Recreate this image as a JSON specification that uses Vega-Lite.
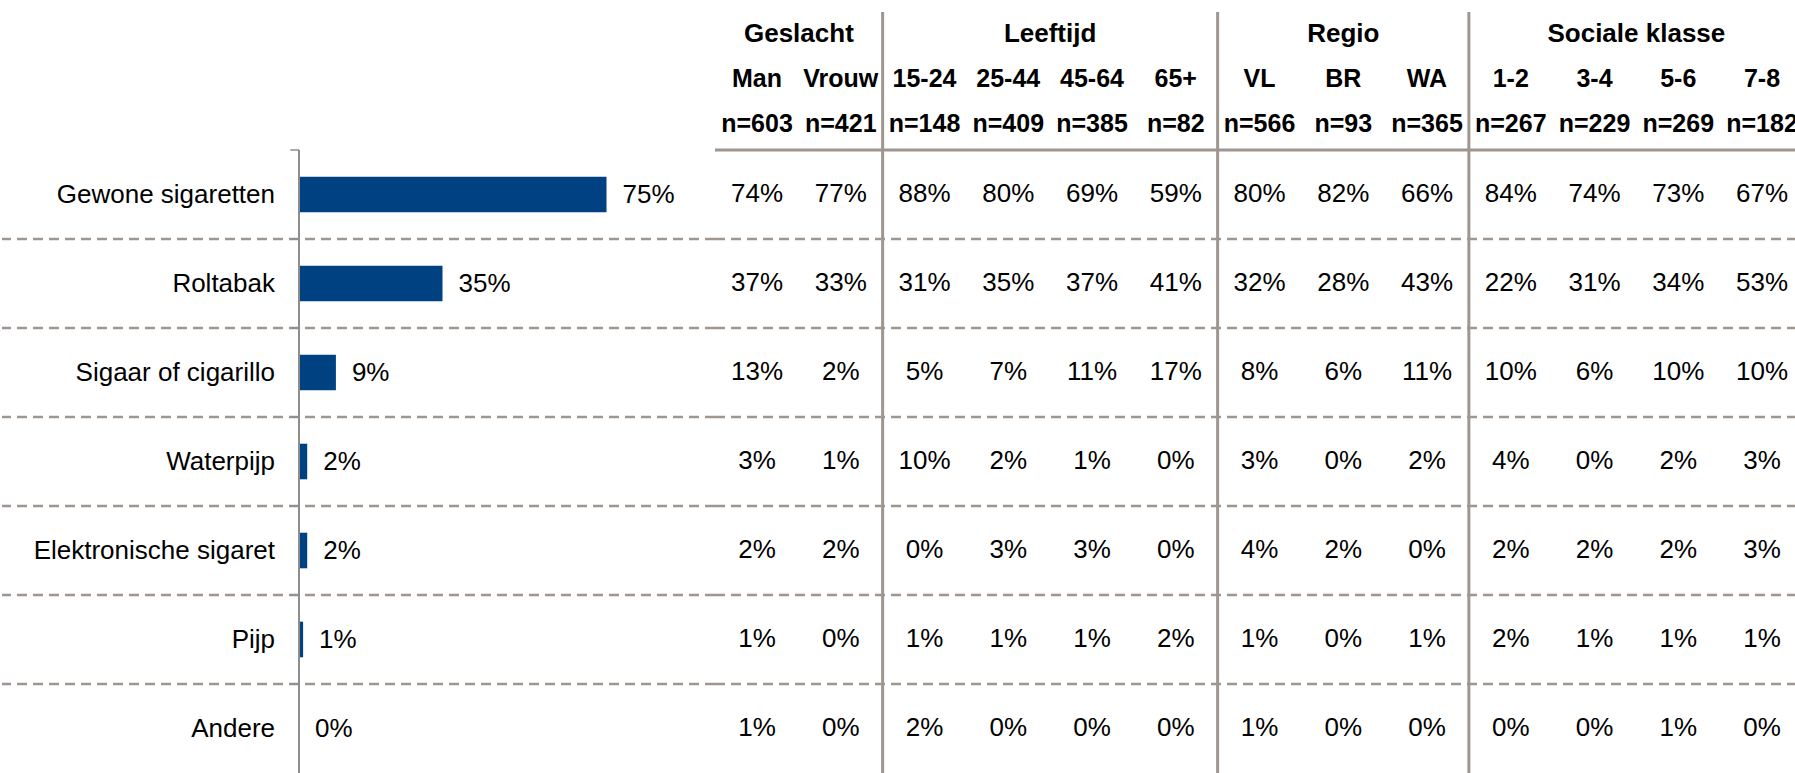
{
  "$schema": "https://vega.github.io/schema/vega-lite/v6.json",
  "padding": 0,
  "background": "white",
  "spacing": 0,
  "bounds": "flush",
  "config": {"view": {"stroke": null}, "text": {"font": "Liberation Sans", "color": "#000000"}},
  "datasets": {
    "totals": [
      {"cat": "Gewone sigaretten", "pct": 0.75},
      {"cat": "Roltabak", "pct": 0.35},
      {"cat": "Sigaar of cigarillo", "pct": 0.09},
      {"cat": "Waterpijp", "pct": 0.02},
      {"cat": "Elektronische sigaret", "pct": 0.02},
      {"cat": "Pijp", "pct": 0.01},
      {"cat": "Andere", "pct": 0.0}
    ],
    "cols": [
      {"col": "Man", "n": "n=603"},
      {"col": "Vrouw", "n": "n=421"},
      {"col": "15-24", "n": "n=148"},
      {"col": "25-44", "n": "n=409"},
      {"col": "45-64", "n": "n=385"},
      {"col": "65+", "n": "n=82"},
      {"col": "VL", "n": "n=566"},
      {"col": "BR", "n": "n=93"},
      {"col": "WA", "n": "n=365"},
      {"col": "1-2", "n": "n=267"},
      {"col": "3-4", "n": "n=229"},
      {"col": "5-6", "n": "n=269"},
      {"col": "7-8", "n": "n=182"}
    ],
    "groups": [
      {"group": "Geslacht", "anchor": "Man"},
      {"group": "Leeftijd", "anchor": "25-44"},
      {"group": "Regio", "anchor": "BR"},
      {"group": "Sociale klasse", "anchor": "3-4"}
    ],
    "seps": [
      {"after": "Vrouw"},
      {"after": "65+"},
      {"after": "WA"}
    ],
    "cells": [
      {"cat": "Gewone sigaretten", "col": "Man", "v": 0.74},
      {"cat": "Gewone sigaretten", "col": "Vrouw", "v": 0.77},
      {"cat": "Gewone sigaretten", "col": "15-24", "v": 0.88},
      {"cat": "Gewone sigaretten", "col": "25-44", "v": 0.80},
      {"cat": "Gewone sigaretten", "col": "45-64", "v": 0.69},
      {"cat": "Gewone sigaretten", "col": "65+", "v": 0.59},
      {"cat": "Gewone sigaretten", "col": "VL", "v": 0.80},
      {"cat": "Gewone sigaretten", "col": "BR", "v": 0.82},
      {"cat": "Gewone sigaretten", "col": "WA", "v": 0.66},
      {"cat": "Gewone sigaretten", "col": "1-2", "v": 0.84},
      {"cat": "Gewone sigaretten", "col": "3-4", "v": 0.74},
      {"cat": "Gewone sigaretten", "col": "5-6", "v": 0.73},
      {"cat": "Gewone sigaretten", "col": "7-8", "v": 0.67},
      {"cat": "Roltabak", "col": "Man", "v": 0.37},
      {"cat": "Roltabak", "col": "Vrouw", "v": 0.33},
      {"cat": "Roltabak", "col": "15-24", "v": 0.31},
      {"cat": "Roltabak", "col": "25-44", "v": 0.35},
      {"cat": "Roltabak", "col": "45-64", "v": 0.37},
      {"cat": "Roltabak", "col": "65+", "v": 0.41},
      {"cat": "Roltabak", "col": "VL", "v": 0.32},
      {"cat": "Roltabak", "col": "BR", "v": 0.28},
      {"cat": "Roltabak", "col": "WA", "v": 0.43},
      {"cat": "Roltabak", "col": "1-2", "v": 0.22},
      {"cat": "Roltabak", "col": "3-4", "v": 0.31},
      {"cat": "Roltabak", "col": "5-6", "v": 0.34},
      {"cat": "Roltabak", "col": "7-8", "v": 0.53},
      {"cat": "Sigaar of cigarillo", "col": "Man", "v": 0.13},
      {"cat": "Sigaar of cigarillo", "col": "Vrouw", "v": 0.02},
      {"cat": "Sigaar of cigarillo", "col": "15-24", "v": 0.05},
      {"cat": "Sigaar of cigarillo", "col": "25-44", "v": 0.07},
      {"cat": "Sigaar of cigarillo", "col": "45-64", "v": 0.11},
      {"cat": "Sigaar of cigarillo", "col": "65+", "v": 0.17},
      {"cat": "Sigaar of cigarillo", "col": "VL", "v": 0.08},
      {"cat": "Sigaar of cigarillo", "col": "BR", "v": 0.06},
      {"cat": "Sigaar of cigarillo", "col": "WA", "v": 0.11},
      {"cat": "Sigaar of cigarillo", "col": "1-2", "v": 0.10},
      {"cat": "Sigaar of cigarillo", "col": "3-4", "v": 0.06},
      {"cat": "Sigaar of cigarillo", "col": "5-6", "v": 0.10},
      {"cat": "Sigaar of cigarillo", "col": "7-8", "v": 0.10},
      {"cat": "Waterpijp", "col": "Man", "v": 0.03},
      {"cat": "Waterpijp", "col": "Vrouw", "v": 0.01},
      {"cat": "Waterpijp", "col": "15-24", "v": 0.10},
      {"cat": "Waterpijp", "col": "25-44", "v": 0.02},
      {"cat": "Waterpijp", "col": "45-64", "v": 0.01},
      {"cat": "Waterpijp", "col": "65+", "v": 0.0},
      {"cat": "Waterpijp", "col": "VL", "v": 0.03},
      {"cat": "Waterpijp", "col": "BR", "v": 0.0},
      {"cat": "Waterpijp", "col": "WA", "v": 0.02},
      {"cat": "Waterpijp", "col": "1-2", "v": 0.04},
      {"cat": "Waterpijp", "col": "3-4", "v": 0.0},
      {"cat": "Waterpijp", "col": "5-6", "v": 0.02},
      {"cat": "Waterpijp", "col": "7-8", "v": 0.03},
      {"cat": "Elektronische sigaret", "col": "Man", "v": 0.02},
      {"cat": "Elektronische sigaret", "col": "Vrouw", "v": 0.02},
      {"cat": "Elektronische sigaret", "col": "15-24", "v": 0.0},
      {"cat": "Elektronische sigaret", "col": "25-44", "v": 0.03},
      {"cat": "Elektronische sigaret", "col": "45-64", "v": 0.03},
      {"cat": "Elektronische sigaret", "col": "65+", "v": 0.0},
      {"cat": "Elektronische sigaret", "col": "VL", "v": 0.04},
      {"cat": "Elektronische sigaret", "col": "BR", "v": 0.02},
      {"cat": "Elektronische sigaret", "col": "WA", "v": 0.0},
      {"cat": "Elektronische sigaret", "col": "1-2", "v": 0.02},
      {"cat": "Elektronische sigaret", "col": "3-4", "v": 0.02},
      {"cat": "Elektronische sigaret", "col": "5-6", "v": 0.02},
      {"cat": "Elektronische sigaret", "col": "7-8", "v": 0.03},
      {"cat": "Pijp", "col": "Man", "v": 0.01},
      {"cat": "Pijp", "col": "Vrouw", "v": 0.0},
      {"cat": "Pijp", "col": "15-24", "v": 0.01},
      {"cat": "Pijp", "col": "25-44", "v": 0.01},
      {"cat": "Pijp", "col": "45-64", "v": 0.01},
      {"cat": "Pijp", "col": "65+", "v": 0.02},
      {"cat": "Pijp", "col": "VL", "v": 0.01},
      {"cat": "Pijp", "col": "BR", "v": 0.0},
      {"cat": "Pijp", "col": "WA", "v": 0.01},
      {"cat": "Pijp", "col": "1-2", "v": 0.02},
      {"cat": "Pijp", "col": "3-4", "v": 0.01},
      {"cat": "Pijp", "col": "5-6", "v": 0.01},
      {"cat": "Pijp", "col": "7-8", "v": 0.01},
      {"cat": "Andere", "col": "Man", "v": 0.01},
      {"cat": "Andere", "col": "Vrouw", "v": 0.0},
      {"cat": "Andere", "col": "15-24", "v": 0.02},
      {"cat": "Andere", "col": "25-44", "v": 0.0},
      {"cat": "Andere", "col": "45-64", "v": 0.0},
      {"cat": "Andere", "col": "65+", "v": 0.0},
      {"cat": "Andere", "col": "VL", "v": 0.01},
      {"cat": "Andere", "col": "BR", "v": 0.0},
      {"cat": "Andere", "col": "WA", "v": 0.0},
      {"cat": "Andere", "col": "1-2", "v": 0.0},
      {"cat": "Andere", "col": "3-4", "v": 0.0},
      {"cat": "Andere", "col": "5-6", "v": 0.01},
      {"cat": "Andere", "col": "7-8", "v": 0.0}
    ]
  },
  "hconcat": [
    {
      "width": 713,
      "height": 773,
      "data": {"name": "totals"},
      "layer": [
        {
          "transform": [{"filter": "datum.cat !== 'Gewone sigaretten'"}],
          "mark": {"type": "rule", "color": "#9f968f", "strokeWidth": 2.5, "strokeDash": [10, 6]},
          "encoding": {
            "y": {"field": "cat", "type": "nominal", "bandPosition": 0, "axis": null,
              "scale": {"domain": ["Gewone sigaretten", "Roltabak", "Sigaar of cigarillo", "Waterpijp", "Elektronische sigaret", "Pijp", "Andere"], "paddingInner": 0, "paddingOuter": 0.8427, "align": 1}}
          }
        },
        {
          "mark": {"type": "bar", "color": "#004182", "height": {"band": 0.4}},
          "encoding": {
            "x": {"field": "pct", "type": "quantitative", "axis": null, "scale": {"domain": [-0.7244, 1.0146], "nice": false}},
            "y": {"field": "cat", "type": "nominal", "axis": null}
          }
        },
        {
          "mark": {"type": "rule", "color": "#8e8e8e", "strokeWidth": 1.5},
          "encoding": {
            "x": {"datum": 0, "type": "quantitative"},
            "y": {"datum": "Gewone sigaretten", "type": "nominal", "bandPosition": 0},
            "y2": {"value": "height"}
          }
        },
        {
          "mark": {"type": "rule", "color": "#8e8e8e", "strokeWidth": 1.5},
          "encoding": {
            "x": {"datum": 0, "type": "quantitative"},
            "x2": {"datum": -0.0212},
            "y": {"field": "cat", "type": "nominal", "bandPosition": 0}
          }
        },
        {
          "mark": {"type": "text", "align": "left", "baseline": "middle", "dx": 16, "fontSize": 26},
          "encoding": {
            "x": {"field": "pct", "type": "quantitative"},
            "y": {"field": "cat", "type": "nominal"},
            "text": {"field": "pct", "type": "quantitative", "format": ".0%"}
          }
        },
        {
          "mark": {"type": "text", "align": "right", "baseline": "middle", "dx": -24, "fontSize": 26},
          "encoding": {
            "x": {"datum": 0, "type": "quantitative"},
            "y": {"field": "cat", "type": "nominal"},
            "text": {"field": "cat", "type": "nominal"}
          }
        }
      ]
    },
    {
      "spacing": 0,
      "bounds": "flush",
      "vconcat": [
        {
          "width": 1082,
          "height": 147,
          "layer": [
            {
              "data": {"name": "seps"},
              "mark": {"type": "rule", "color": "#9f968f", "strokeWidth": 3},
              "encoding": {
                "x": {"field": "after", "type": "nominal", "bandPosition": 1.5, "axis": null,
                  "scale": {"domain": ["Man", "Vrouw", "15-24", "25-44", "45-64", "65+", "VL", "BR", "WA", "1-2", "3-4", "5-6", "7-8"], "paddingInner": 0.5, "paddingOuter": 0.2097, "align": 0.5996}},
                "y": {"datum": "group", "type": "nominal", "bandPosition": 0, "axis": null,
                  "scale": {"domain": ["group", "label", "n"], "paddingInner": 0, "paddingOuter": 0.1333, "align": 1}},
                "y2": {"value": "height"}
              }
            },
            {
              "data": {"name": "cols"},
              "mark": {"type": "text", "align": "center", "baseline": "middle", "fontSize": 25, "fontWeight": "bold"},
              "encoding": {
                "x": {"field": "col", "type": "nominal"},
                "y": {"datum": "label", "type": "nominal"},
                "text": {"field": "col", "type": "nominal"}
              }
            },
            {
              "data": {"name": "cols"},
              "mark": {"type": "text", "align": "center", "baseline": "middle", "fontSize": 25, "fontWeight": "bold"},
              "encoding": {
                "x": {"field": "col", "type": "nominal"},
                "y": {"datum": "n", "type": "nominal"},
                "text": {"field": "n", "type": "nominal"}
              }
            },
            {
              "data": {"name": "groups"},
              "transform": [{"filter": "datum.group !== 'Regio'"}],
              "mark": {"type": "text", "align": "center", "baseline": "middle", "fontSize": 26, "fontWeight": "bold"},
              "encoding": {
                "x": {"field": "anchor", "type": "nominal", "bandPosition": 1.5},
                "y": {"datum": "group", "type": "nominal"},
                "text": {"field": "group", "type": "nominal"}
              }
            },
            {
              "data": {"name": "groups"},
              "transform": [{"filter": "datum.group === 'Regio'"}],
              "mark": {"type": "text", "align": "center", "baseline": "middle", "fontSize": 26, "fontWeight": "bold"},
              "encoding": {
                "x": {"field": "anchor", "type": "nominal", "bandPosition": 0.5},
                "y": {"datum": "group", "type": "nominal"},
                "text": {"field": "group", "type": "nominal"}
              }
            }
          ]
        },
        {
          "width": 1082,
          "height": 626,
          "layer": [
            {
              "data": {"name": "totals"},
              "mark": {"type": "rule", "color": "#9f968f"},
              "encoding": {
                "y": {"field": "cat", "type": "nominal", "bandPosition": 0, "axis": null,
                  "scale": {"domain": ["Gewone sigaretten", "Roltabak", "Sigaar of cigarillo", "Waterpijp", "Elektronische sigaret", "Pijp", "Andere"], "paddingInner": 0, "paddingOuter": 0.01685, "align": 1}},
                "strokeDash": {"condition": {"test": "datum.cat === 'Gewone sigaretten'", "value": [1, 0]}, "value": [10, 6]},
                "strokeWidth": {"condition": {"test": "datum.cat === 'Gewone sigaretten'", "value": 3}, "value": 2.5}
              }
            },
            {
              "data": {"name": "seps"},
              "mark": {"type": "rule", "color": "#9f968f", "strokeWidth": 3},
              "encoding": {
                "x": {"field": "after", "type": "nominal", "bandPosition": 1.5, "axis": null,
                  "scale": {"domain": ["Man", "Vrouw", "15-24", "25-44", "45-64", "65+", "VL", "BR", "WA", "1-2", "3-4", "5-6", "7-8"], "paddingInner": 0.5, "paddingOuter": 0.2097, "align": 0.5996}}
              }
            },
            {
              "data": {"name": "cells"},
              "mark": {"type": "text", "align": "center", "baseline": "middle", "fontSize": 26},
              "encoding": {
                "x": {"field": "col", "type": "nominal"},
                "y": {"field": "cat", "type": "nominal"},
                "text": {"field": "v", "type": "quantitative", "format": ".0%"}
              }
            }
          ]
        }
      ]
    }
  ]
}
